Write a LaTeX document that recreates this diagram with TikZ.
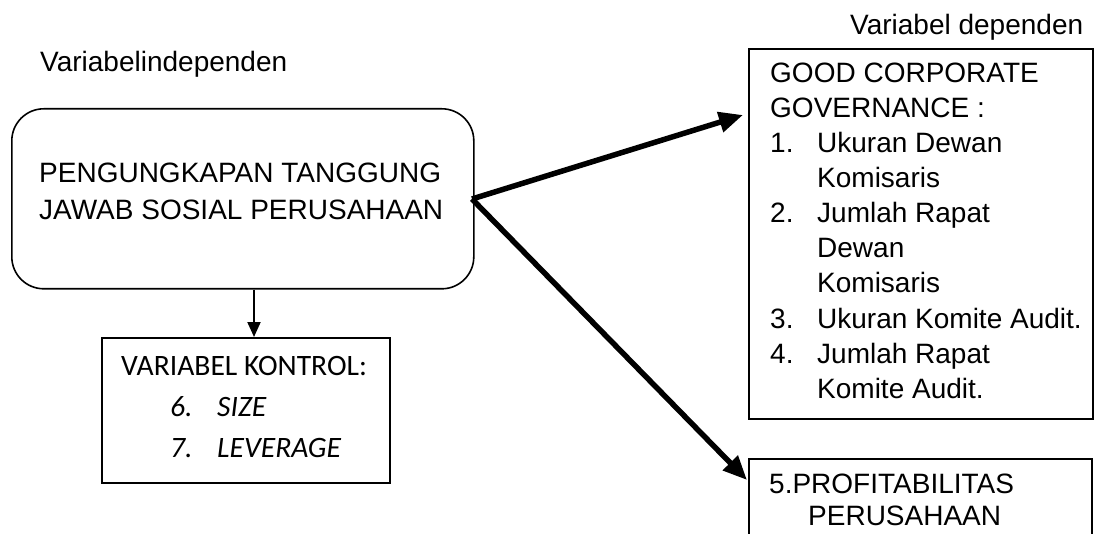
\documentclass[tikz,border=0pt]{standalone}
\usepackage{fontspec}
\setmainfont{Liberation Sans}
\newfontfamily\calib{Carlito}
\usetikzlibrary{arrows.meta}
\begin{document}
\begin{tikzpicture}[x=1pt,y=-1pt,
  txt/.style={anchor=base west,inner sep=0pt,font=\fontsize{28}{34}\selectfont},
  ctxt/.style={anchor=base west,inner sep=0pt,font=\calib\fontsize{29.6}{35}\selectfont},
  citxt/.style={anchor=base west,inner sep=0pt,font=\calib\itshape\fontsize{29.6}{35}\selectfont},
  boxr/.style={draw,line width=1.6pt,anchor=north west,inner sep=0pt},
  bigarrow/.style={line width=5.5pt,-{Triangle[length=24pt,width=20pt]}},
  smallarrow/.style={line width=2pt,-{Triangle[length=15pt,width=13pt]}}]
\clip (0,0) rectangle (1102,534);
\fill[white] (0,0) rectangle (1102,534);
% boxes
\node[boxr,rounded corners=32pt,minimum width=462pt,minimum height=180pt] (main) at (11,108) {};
\node[boxr,minimum width=288pt,minimum height=145pt] (kontrol) at (101,337) {};
\node[boxr,minimum width=344pt,minimum height=370pt] (gcg) at (748,48) {};
\node[boxr,minimum width=343pt,minimum height=110pt] (profit) at (748,458) {};
% labels
\node[txt] (lindep) at (40,72) {Variabelindependen};
\node[txt] (ldep) at (850,35) {Variabel dependen};
\node[txt] (m1) at (39,183) {PENGUNGKAPAN TANGGUNG};
\node[txt] (m2) at (39,220) {JAWAB SOSIAL PERUSAHAAN};
\node[ctxt] (k0) at (121,375) {VARIABEL KONTROL:};
\node[citxt] (k1n) at (170,416) {6.};
\node[citxt] (k1) at (217,416) {SIZE};
\node[citxt] (k2n) at (170,457) {7.};
\node[citxt] (k2) at (217,457) {LEVERAGE};
\node[txt] (g0) at (770,83) {GOOD CORPORATE};
\node[txt] (g0b) at (770,118) {GOVERNANCE :};
\node[txt] (g1n) at (770,153) {1.};
\node[txt] (g1) at (817,153) {Ukuran Dewan};
\node[txt] (g1b) at (817,188) {Komisaris};
\node[txt] (g2n) at (770,223) {2.};
\node[txt] (g2) at (817,223) {Jumlah Rapat};
\node[txt] (g2b) at (817,258) {Dewan};
\node[txt] (g2c) at (817,293) {Komisaris};
\node[txt] (g3n) at (770,328) {3.};
\node[txt] (g3) at (817,328) {Ukuran Komite Audit.};
\node[txt] (g4n) at (770,363) {4.};
\node[txt] (g4) at (817,363) {Jumlah Rapat};
\node[txt] (g4b) at (817,398) {Komite Audit.};
\node[txt] (p1) at (769,493) {5.PROFITABILITAS};
\node[txt] (p2) at (808,525) {PERUSAHAAN};
% connectors
\coordinate (start) at (472,199);
\coordinate (tipg) at (743,115);
\coordinate (tipp) at (747,480);
\draw[bigarrow] (start) -- (tipg);
\draw[bigarrow] (start) -- (tipp);
\draw[smallarrow] (main.south -| 254,0) -- (kontrol.north -| 254,0);
\end{tikzpicture}
\end{document}
